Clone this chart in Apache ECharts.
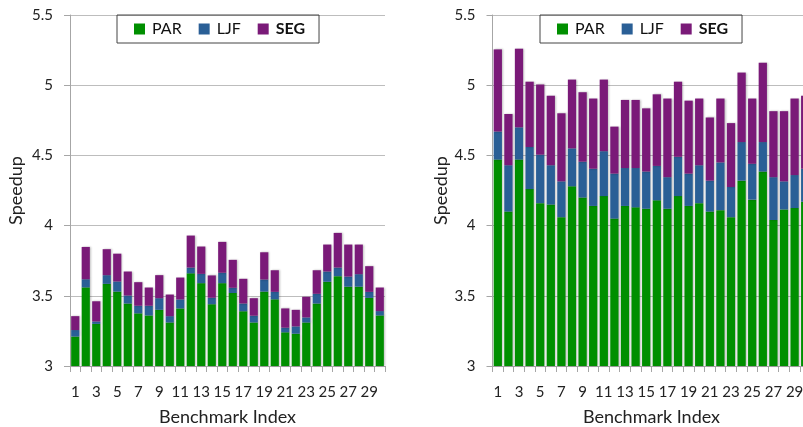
<!DOCTYPE html>
<html>
<head>
<meta charset="utf-8">
<script src="https://cdn.jsdelivr.net/npm/echarts@6/dist/echarts.min.js"></script>
<style>
html,body{margin:0;padding:0;background:#fff;}
#chart{width:803px;height:427px;}
</style>
</head>
<body>
<div id="chart"></div>
<script>
// Benchmark indices
const categories = Array.from({length: 30}, (_, i) => String(i + 1));
const yTicks = [3, 3.5, 4, 4.5, 5, 5.5];

// Left chart: stacked segment values (PAR base, LJF increment, SEG increment)
const leftPAR = [3.21,3.56,3.30,3.585,3.53,3.445,3.375,3.36,3.40,3.31,3.41,3.66,3.59,3.44,3.59,3.52,3.39,3.31,3.53,3.475,3.24,3.23,3.31,3.445,3.60,3.64,3.565,3.565,3.485,3.36];
const leftLJF = [0.046,0.058,0.017,0.062,0.072,0.057,0.054,0.069,0.083,0.045,0.064,0.041,0.066,0.046,0.074,0.037,0.055,0.048,0.086,0.053,0.033,0.052,0.036,0.069,0.073,0.061,0.072,0.089,0.043,0.031];
const leftSEG = [0.099,0.23,0.144,0.185,0.198,0.171,0.168,0.13,0.164,0.154,0.156,0.228,0.195,0.159,0.22,0.199,0.176,0.125,0.194,0.154,0.137,0.118,0.147,0.168,0.192,0.247,0.228,0.211,0.183,0.168];

// Right chart
const rightPAR = [4.47,4.10,4.47,4.26,4.16,4.15,4.06,4.28,4.20,4.14,4.21,4.05,4.14,4.13,4.12,4.18,4.12,4.21,4.14,4.16,4.10,4.11,4.06,4.32,4.185,4.385,4.04,4.115,4.125,4.17];
const rightLJF = [0.20,0.33,0.23,0.30,0.345,0.28,0.255,0.27,0.255,0.265,0.32,0.32,0.27,0.28,0.265,0.245,0.225,0.28,0.23,0.27,0.22,0.34,0.215,0.275,0.255,0.21,0.305,0.20,0.235,0.235];
const rightSEG = [0.585,0.365,0.56,0.465,0.50,0.495,0.485,0.49,0.495,0.50,0.51,0.335,0.485,0.485,0.45,0.51,0.56,0.535,0.52,0.475,0.45,0.455,0.455,0.495,0.465,0.565,0.47,0.50,0.545,0.52];

const seriesNames = ['PAR', 'LJF', 'SEG'];
const colors = ['#008f00', '#2a5f96', '#7a1a78'];
const FONT = 'Lato, "Open Sans", sans-serif';

const grids = [
  {left: 70, top: 15, width: 315, height: 351, outerBoundsMode: 'none', containLabel: false},
  {left: 492.5, top: 15, width: 318, height: 351, outerBoundsMode: 'none', containLabel: false}
];

function xAxis(i) {
  return {
    type: 'category', gridIndex: i, data: categories,
    axisLine: {lineStyle: {color: '#a6a6a6', width: 1}},
    axisTick: {show: true, interval: 0, length: 6, lineStyle: {color: '#a6a6a6'}},
    axisLabel: {interval: 1, margin: 19, fontSize: 15, color: '#222', fontFamily: FONT},
    name: 'Benchmark Index', nameLocation: 'middle', nameGap: 42,
    nameTextStyle: {fontSize: 18, color: '#222', fontFamily: FONT}
  };
}
function yAxis(i) {
  return {
    type: 'value', gridIndex: i, min: 3, max: 5.5, interval: 0.5,
    axisLine: {show: true, lineStyle: {color: '#a6a6a6'}},
    axisTick: {show: true, length: 6, lineStyle: {color: '#a6a6a6'}},
    axisLabel: {margin: 17, fontSize: 15, color: '#222', fontFamily: FONT,
      formatter: v => yTicks.includes(v) ? String(v) : ''},
    splitLine: {lineStyle: {color: '#bdbdbd', width: 1}},
    name: 'Speedup', nameLocation: 'middle', nameGap: i === 0 ? 45 : 42,
    nameTextStyle: {fontSize: 18, color: '#222', fontFamily: FONT}
  };
}

const dataSets = [[leftPAR, leftLJF, leftSEG], [rightPAR, rightLJF, rightSEG]];
const series = [];
dataSets.forEach((set, gi) => {
  set.forEach((arr, si) => {
    series.push({
      type: 'bar', name: seriesNames[si], xAxisIndex: gi, yAxisIndex: gi,
      stack: 'g' + gi, data: arr, barCategoryGap: '22%',
      itemStyle: {color: colors[si], shadowColor: 'rgba(0,0,0,0.25)', shadowBlur: 2, shadowOffsetX: 1, shadowOffsetY: 0},
      emphasis: {disabled: true}
    });
  });
});

function legend(left) {
  return {
    left: left, top: 15, orient: 'horizontal',
    borderColor: '#444', borderWidth: 1, padding: [6, 14, 6, 17],
    itemWidth: 11, itemHeight: 11, itemGap: 17,
    icon: 'rect',
    textStyle: {fontSize: 16, color: '#111', fontFamily: FONT, padding: [0, 0, 0, 2]},
    data: [{name: 'PAR'}, {name: 'LJF'}, {name: 'SEG', textStyle: {fontWeight: 'bold'}}]
  };
}

const chart = echarts.init(document.getElementById('chart'), null, {renderer: 'canvas'});
chart.setOption({
  backgroundColor: '#fff',
  animation: false,
  grid: grids,
  xAxis: [xAxis(0), xAxis(1)],
  yAxis: [yAxis(0), yAxis(1)],
  legend: [legend(117), legend(540)],
  series: series
});
</script>
</body>
</html>
